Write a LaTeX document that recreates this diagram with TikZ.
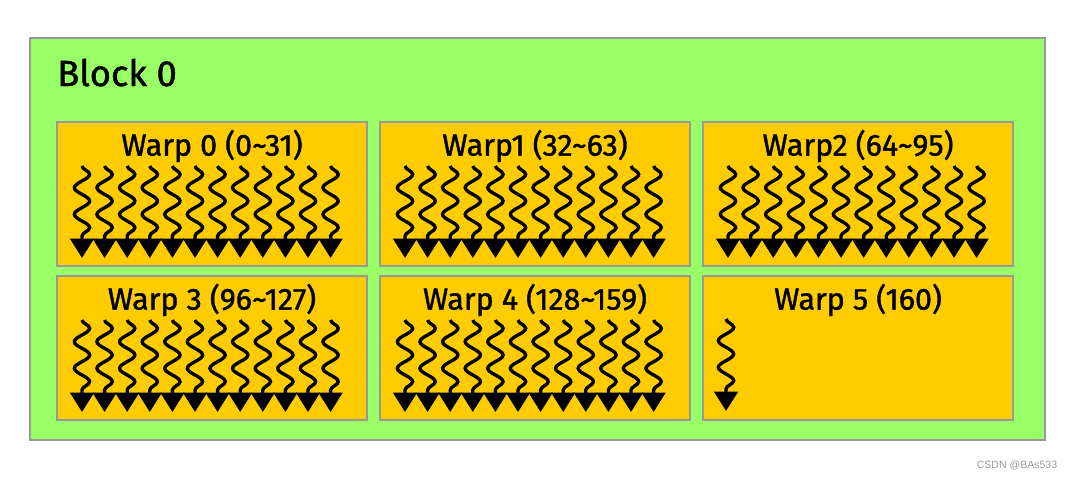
\documentclass[tikz,border=0pt]{standalone}
\usepackage{fontspec}
\setmainfont{Fira Sans}[FakeBold=1.3]
\newfontfamily\markfont{Liberation Sans}
\usetikzlibrary{positioning,calc,arrows.meta,decorations.pathmorphing}
\definecolor{blockgreen}{RGB}{153,255,102}
\definecolor{warpyellow}{RGB}{255,204,0}
\definecolor{framegray}{RGB}{153,153,153}

\begin{document}
\begin{tikzpicture}[x=0.03cm,y=-0.03cm,
    blockbox/.style={rectangle,draw=framegray,line width=0.06cm,fill=blockgreen,minimum width=30.45cm,minimum height=12.06cm,inner sep=0pt},
    warpbox/.style={rectangle,draw=framegray,line width=0.06cm,fill=warpyellow,minimum width=9.3cm,minimum height=4.32cm,inner sep=0pt},
    warptitle/.style={inner sep=0pt,font=\fontsize{26}{30}\selectfont},
    thread/.style={line width=0.1cm,decorate,decoration={snake,amplitude=0.23cm,segment length=0.8cm,post length=0.55cm},-{Triangle[width=0.7cm,length=0.58cm]}}]
    \useasboundingbox (0,0) rectangle (1075,479);

    % Block
    \node[blockbox] (block) at (537.5,239) {};
    \node[inner sep=0pt,anchor=base west,font=\fontsize{31}{36}\selectfont] (blocktitle) at (57,86) {Block 0};

    % Warps
    \node[warpbox] (warp0) at (212,194) {};
    \node[warpbox,right=0.33cm of warp0] (warp1) {};
    \node[warpbox,right=0.33cm of warp1] (warp2) {};
    \node[warpbox,below=0.24cm of warp0] (warp3) {};
    \node[warpbox,right=0.33cm of warp3] (warp4) {};
    \node[warpbox,right=0.33cm of warp4] (warp5) {};

    % Warp titles
    \node[warptitle] (title0) at ($(warp0.north)+(0,25)$) {Warp 0 (0\textasciitilde31)};
    \node[warptitle] (title1) at ($(warp1.north)+(0,25)$) {Warp1 (32\textasciitilde63)};
    \node[warptitle] (title2) at ($(warp2.north)+(0,25)$) {Warp2 (64\textasciitilde95)};
    \node[warptitle] (title3) at ($(warp3.north)+(0,25)$) {Warp 3 (96\textasciitilde127)};
    \node[warptitle] (title4) at ($(warp4.north)+(0,25)$) {Warp 4 (128\textasciitilde159)};
    \node[warptitle] (title5) at ($(warp5.north)+(0,25)$) {Warp 5 (160)};

    % Threads
    \foreach \w in {warp0,warp1,warp2,warp3,warp4}
        \foreach \i in {0,...,11}
            \draw[thread] ($(\w.north west)+(26+22.6*\i,45)$) coordinate (\w top\i) -- ++(0,92);
    \draw[thread] ($(warp5.north west)+(24,44)$) coordinate (warp5top0) -- ++(0,92);

    % Watermark
    \node[inner sep=0pt,text=framegray,font=\markfont\fontsize{9}{10}\selectfont] (mark) at (1017,465) {CSDN @BAs533};
\end{tikzpicture}
\end{document}
